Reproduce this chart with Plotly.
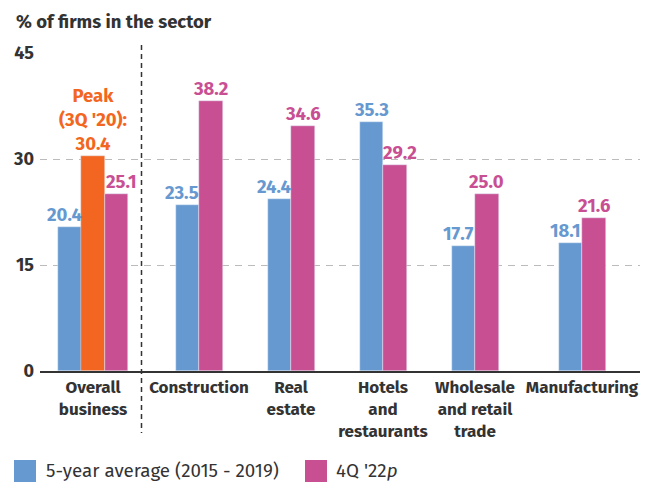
import plotly.graph_objects as go

# ---- data ----
categories = ["Overall<br>business", "Construction", "Real<br>estate",
              "Hotels<br>and<br>restaurants", "Wholesale<br>and retail<br>trade", "Manufacturing"]
series_avg_name = "5-year average (2015 - 2019)"
series_avg = [20.4, 23.5, 24.4, 35.3, 17.7, 18.1]
series_latest_name = "4Q '22<i>p</i>"
series_latest = [25.1, 38.2, 34.6, 29.2, 25.0, 21.6]
peak_label = "Peak<br>(3Q '20):"
peak_value = 30.4
y_ticks = [0, 15, 30, 45]

# ---- layout constants (pixel-like x units) ----
x_pos = [93, 199, 291, 383, 475, 582]
bw = 23.5
avg_off = [-35] + [-23.5] * 5
lat_off = [11.75] + [0] * 5

BLUE = "#6699d0"
PINK = "#c94f93"
ORANGE = "#f36621"
DARK = "#333333"
FONT = "Fira Sans, Open Sans, sans-serif"

fig = go.Figure()
fig.add_bar(x=x_pos, y=series_avg, width=bw, offset=avg_off, marker_color=BLUE,
            name=series_avg_name, showlegend=False, hoverinfo="y")
fig.add_bar(x=[x_pos[0]], y=[peak_value], width=bw, offset=-11.75, marker_color=ORANGE,
            name="Peak", showlegend=False, hoverinfo="y")
fig.add_bar(x=x_pos, y=series_latest, width=bw, offset=lat_off, marker_color=PINK,
            name=series_latest_name, showlegend=False, hoverinfo="y")

LBL = 18.5
ann = []
for i, xp in enumerate(x_pos):
    a, b = series_avg[i], series_latest[i]
    sa = -5 if b > a else 0
    sb = 5 if a > b else 0
    if i == 0:
        sa, sb = -5, 5
    ann.append(dict(x=xp + avg_off[i] + bw / 2, y=a, text=f"{a:.1f}", showarrow=False,
                    xref="x", yref="y", yanchor="bottom", xshift=sa, yshift=-1,
                    font=dict(family=FONT, size=LBL, color=BLUE, weight="bold")))
    ann.append(dict(x=xp + lat_off[i] + bw / 2, y=b, text=f"{b:.1f}", showarrow=False,
                    xref="x", yref="y", yanchor="bottom", xshift=sb, yshift=-1,
                    font=dict(family=FONT, size=LBL, color=PINK, weight="bold")))
ann.append(dict(x=x_pos[0], y=peak_value, text=f"{peak_label}<br>{peak_value:.1f}",
                showarrow=False, xref="x", yref="y", yanchor="bottom", yshift=-1,
                font=dict(family=FONT, size=LBL, color=ORANGE, weight="bold")))

# helper: screen pixel -> paper (plot area spans x 40..640, y 53..371 on screen)
def px(xp):
    return (xp - 40) / 600
def py(yp):
    return (371 - yp) / 318

ann.append(dict(x=px(14), y=py(22), xref="paper", yref="paper", xanchor="left",
                yanchor="middle", text="% of firms in the sector", showarrow=False,
                font=dict(family=FONT, size=18.5, color=DARK, weight="bold")))
ann.append(dict(x=px(44), y=py(470), xref="paper", yref="paper", xanchor="left",
                yanchor="middle", text=series_avg_name, showarrow=False,
                font=dict(family=FONT, size=18.8, color=DARK)))
ann.append(dict(x=px(334), y=py(470), xref="paper", yref="paper", xanchor="left",
                yanchor="middle", text=series_latest_name, showarrow=False,
                font=dict(family=FONT, size=18.8, color=DARK)))

shapes = [
    dict(type="line", xref="x", yref="paper", x0=141.5, x1=141.5, y0=py(45), y1=py(433),
         line=dict(color=DARK, width=1.5, dash="5px,4px")),
    dict(type="rect", xref="paper", yref="paper", x0=px(14), x1=px(36), y0=py(460), y1=py(482),
         fillcolor=BLUE, line=dict(width=0)),
    dict(type="rect", xref="paper", yref="paper", x0=px(305), x1=px(327), y0=py(460), y1=py(482),
         fillcolor=PINK, line=dict(width=0)),
]

# page body has an 8px margin: figure is 646x474 placed at (8, 8)
fig.update_layout(
    width=646, height=474,
    margin=dict(l=32, r=14, t=45, b=111, autoexpand=False),
    plot_bgcolor="white", paper_bgcolor="white",
    barmode="overlay",
    bargap=0,
    annotations=ann,
    shapes=shapes,
    font=dict(family=FONT, color=DARK),
    xaxis=dict(range=[40, 640], tickmode="array", tickvals=x_pos, ticktext=categories,
               showgrid=False, zeroline=False, showline=True, linecolor=DARK, linewidth=1.5,
               ticks="", tickfont=dict(family=FONT, size=17, color=DARK, weight="bold"),
               automargin=False, fixedrange=True),
    yaxis=dict(range=[0, 45], tickmode="array", tickvals=y_ticks,
               showgrid=True, gridcolor="#bbbbbb", griddash="7px,6px", gridwidth=1.2,
               zeroline=False, showline=False, ticks="", ticklabelstandoff=5,
               tickfont=dict(family=FONT, size=18, color=DARK, weight="bold"),
               automargin=False, fixedrange=True),
)

fig.write_html("out.html")
